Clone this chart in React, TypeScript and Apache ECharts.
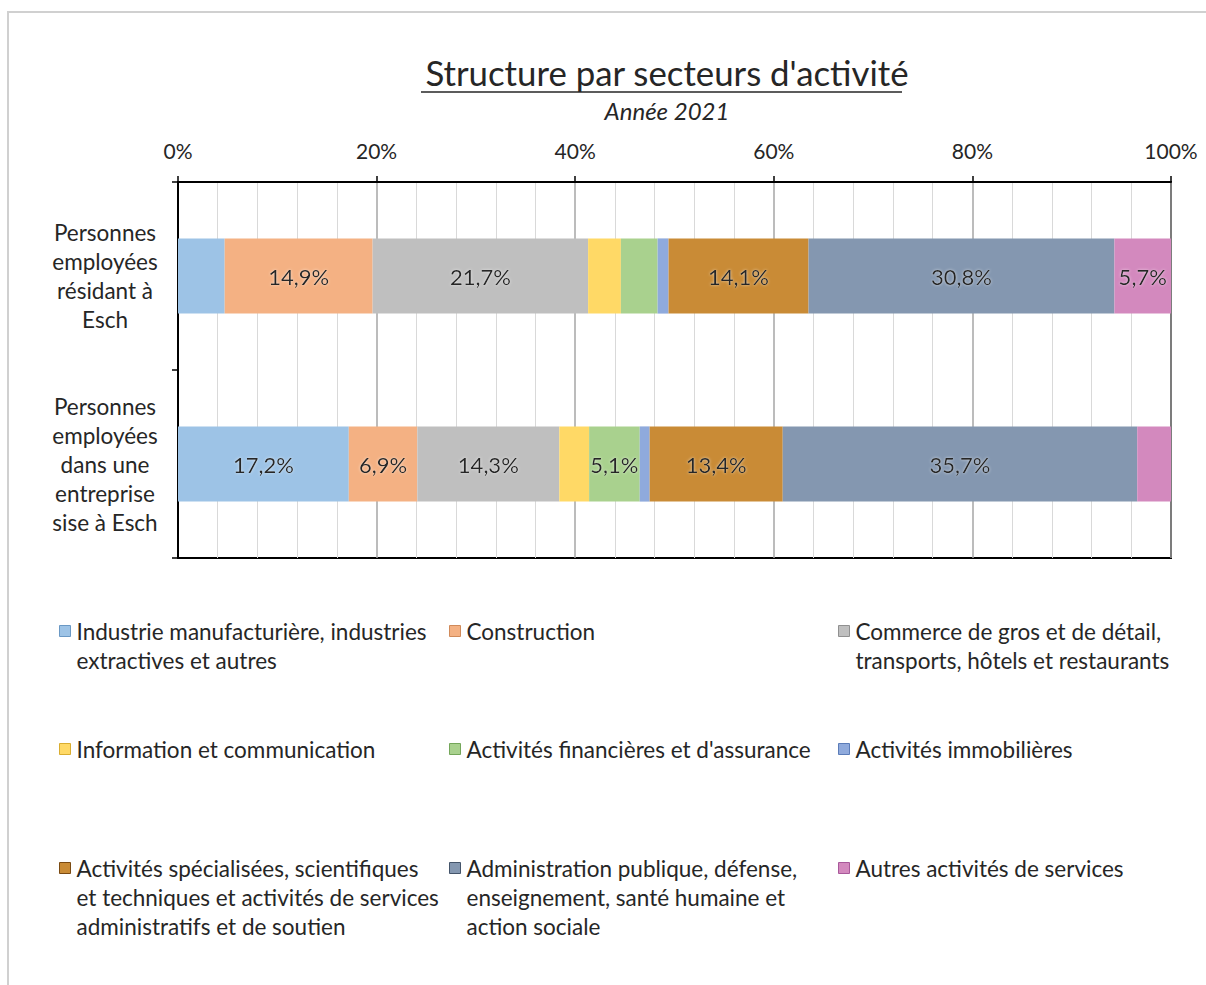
import React, { useEffect, useRef } from "react";
import * as echarts from "echarts";

const categories = [
  "Personnes\nemployées\nrésidant à\nEsch",
  "Personnes\nemployées\ndans une\nentreprise\nsise à Esch",
];

const sectors = [
  "Industrie manufacturière, industries extractives et autres",
  "Construction",
  "Commerce de gros et de détail, transports, hôtels et restaurants",
  "Information et communication",
  "Activités financières et d'assurance",
  "Activités immobilières",
  "Activités spécialisées, scientifiques et techniques et activités de services administratifs et de soutien",
  "Administration publique, défense, enseignement, santé humaine et action sociale",
  "Autres activités de services",
];

const legendLines = [
  "Industrie manufacturière, industries\nextractives et autres",
  "Construction",
  "Commerce de gros et de détail,\ntransports, hôtels et restaurants",
  "Information et communication",
  "Activités financières et d'assurance",
  "Activités immobilières",
  "Activités spécialisées, scientifiques\net techniques et activités de services\nadministratifs et de soutien",
  "Administration publique, défense,\nenseignement, santé humaine et\naction sociale",
  "Autres activités de services",
];

const colors = [
  "#9DC3E6",
  "#F4B183",
  "#BFBFBF",
  "#FFD966",
  "#A9D18E",
  "#8FAADC",
  "#C98B36",
  "#8497B0",
  "#D389BE",
];

const iconBorders = [
  "#6a98c4",
  "#d08a5a",
  "#909090",
  "#d9ad30",
  "#74a65a",
  "#5b7cb8",
  "#7a4a12",
  "#44546a",
  "#a8589a",
];

// values in %: [résidant à Esch, entreprise sise à Esch]
const industrie = [4.7, 17.2];
const construction = [14.9, 6.9];
const commerce = [21.7, 14.3];
const information = [3.3, 3.0];
const financieres = [3.7, 5.1];
const immobilieres = [1.1, 1.0];
const specialisees = [14.1, 13.4];
const administration = [30.8, 35.7];
const autres = [5.7, 3.4];

const seriesValues = [
  industrie,
  construction,
  commerce,
  information,
  financieres,
  immobilieres,
  specialisees,
  administration,
  autres,
];

const xTicks = [0, 20, 40, 60, 80, 100];

const FONT = "Lato";

export default function App() {
  const ref = useRef<HTMLDivElement>(null);
  useEffect(() => {
    if (!ref.current) return;
    const chart = echarts.init(ref.current, null, { renderer: "svg" });

    const colX = [59, 449, 838];
    const rowY = [631, 749, 868];
    const LH = 29;

    const legends = sectors.map((name, i) => {
      const lines = legendLines[i].split("\n").length;
      const k = lines - 1;
      const col = i % 3;
      const row = Math.floor(i / 3);
      return {
        data: [
          {
            name,
            itemStyle: { color: colors[i], borderColor: iconBorders[i], borderWidth: 1 },
          },
        ],
        left: colX[col],
        top: rowY[row] - (2 * k + 1) * (LH / 2),
        padding: 0,
        itemWidth: 11,
        itemHeight: 11,
        itemGap: 0,
        icon: "rect",
        selectedMode: false,
        formatter: () => "\n".repeat(k) + legendLines[i],
        textStyle: {
          fontFamily: FONT,
          fontSize: 22.5,
          lineHeight: LH,
          color: "#262626",
          padding: [0, 0, 0, 1],
        },
      };
    });

    const option: any = {
      animation: false,
      backgroundColor: "#ffffff",
      title: {
        text: "Structure par secteurs d'activité",
        subtext: "Année 2021",
        left: 662,
        top: 50,
        textAlign: "center",
        itemGap: 8,
        textStyle: {
          fontFamily: FONT,
          fontSize: 34.8,
          fontWeight: "normal",
          color: "#262626",
        },
        subtextStyle: {
          fontFamily: FONT,
          fontSize: 24,
          fontStyle: "italic",
          color: "#262626",
        },
      },
      graphic: [
        {
          type: "rect",
          shape: { x: 8, y: 12, width: 1220, height: 1000 },
          style: { fill: "none", stroke: "#d0d0d0", lineWidth: 2 },
          silent: true,
        },
        {
          type: "line",
          shape: { x1: 421, y1: 92, x2: 902, y2: 92 },
          style: { stroke: "#262626", lineWidth: 1.5 },
          silent: true,
        },
      ],
      legend: legends,
      grid: {
        left: 178,
        right: 35,
        top: 182,
        bottom: 427,
        show: true,
        borderColor: "#000",
        borderWidth: 2,
        containLabel: false,
      },
      xAxis: {
        type: "value",
        position: "top",
        min: 0,
        max: 100,
        interval: 20,
        splitNumber: 5,
        axisLine: { show: true, lineStyle: { color: "#000", width: 2 } },
        axisTick: { show: true, length: 6, lineStyle: { color: "#000", width: 1.5 } },
        axisLabel: {
          formatter: (v: number) => (xTicks.includes(v) ? v + "%" : ""),
          fontFamily: FONT,
          fontSize: 21,
          color: "#262626",
          margin: 21,
        },
        splitLine: { show: true, lineStyle: { color: "#a6a6a6", width: 1.5 } },
        minorTick: { show: false, splitNumber: 5 },
        minorSplitLine: { show: true, lineStyle: { color: "#d9d9d9", width: 1 } },
      },
      yAxis: {
        type: "category",
        data: categories,
        inverse: true,
        axisLine: { show: true, lineStyle: { color: "#000", width: 2 } },
        axisTick: { show: true, length: 6, lineStyle: { color: "#000", width: 1.5 } },
        axisLabel: {
          fontFamily: FONT,
          fontSize: 22.5,
          lineHeight: 29,
          color: "#262626",
          align: "center",
          margin: 73,
        },
        splitLine: { show: false },
      },
      series: sectors.map((name, i) => ({
        name,
        type: "bar",
        stack: "total",
        barWidth: "40%",
        data: seriesValues[i],
        itemStyle: { color: colors[i] },
        label: {
          show: true,
          position: "inside",
          fontFamily: FONT,
          fontSize: 22,
          color: "#262626",
          textShadowColor: "rgba(255,255,255,0.6)",
          textShadowBlur: 3,
          formatter: (p: any) =>
            p.value >= 5 ? p.value.toFixed(1).replace(".", ",") + "%" : "",
        },
      })),
    };
    chart.setOption(option);
    return () => chart.dispose();
  }, []);
  return (
    <div
      ref={ref}
      style={{ position: "fixed", left: 0, top: 0, width: 1206, height: 985 }}
    />
  );
}
